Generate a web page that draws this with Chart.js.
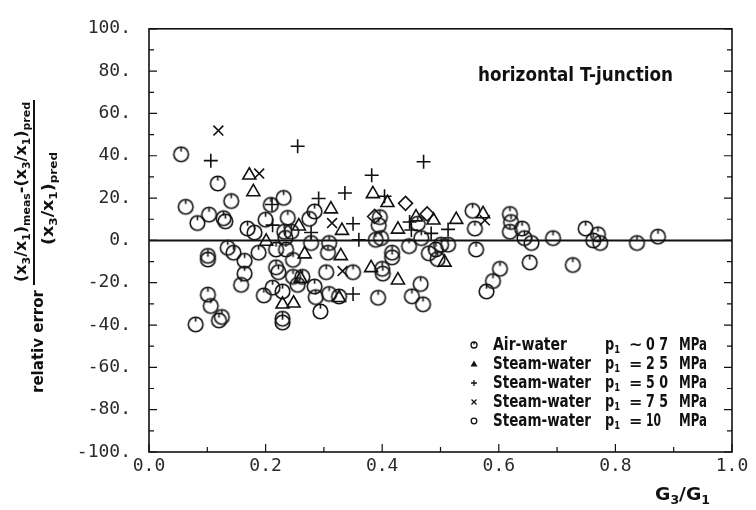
<!DOCTYPE html>
<html lang="en">
<head>
<meta charset="UTF-8">
<title>horizontal T-junction</title>
<script src="https://cdn.jsdelivr.net/npm/chart.js"></script>
<style>
  html, body { margin: 0; padding: 0; background: #fff; }
  #wrap { width: 756px; height: 510px; }
</style>
</head>
<body>
<div id="wrap"><canvas id="errChart" width="756" height="510"></canvas></div>
<script>
// ---- data (G3/G1, relative error %) ----
const airX = [0.055, 0.063, 0.118, 0.141, 0.083, 0.103, 0.128, 0.131, 0.101, 0.101, 0.135, 0.145, 0.164, 0.164, 0.158,
  0.101, 0.106, 0.080, 0.120, 0.125, 0.169, 0.181, 0.200, 0.209, 0.231, 0.238, 0.188, 0.232, 0.234, 0.244, 0.218, 0.235,
  0.247, 0.218, 0.222, 0.247, 0.255, 0.263, 0.197, 0.212, 0.229, 0.229, 0.229, 0.284, 0.286, 0.294, 0.309, 0.304, 0.350,
  0.278, 0.309, 0.284, 0.275, 0.307, 0.326,
  0.555, 0.619, 0.621, 0.619, 0.640, 0.644, 0.656, 0.693, 0.559, 0.561, 0.653, 0.602, 0.590, 0.579, 0.466, 0.451, 0.470,
  0.393, 0.400, 0.401, 0.417, 0.417, 0.389, 0.398, 0.396, 0.394, 0.446, 0.467, 0.480, 0.492, 0.495, 0.501, 0.513, 0.461,
  0.749, 0.770, 0.762, 0.774, 0.837, 0.873, 0.727];
const airY = [40.7, 15.9, 26.9, 18.6, 8.2, 12.2, 10.5, 9.0, -7.3, -9.0, -3.5, -5.8, -9.6, -15.7, -21,
  -25.6, -31, -39.7, -37.8, -36.2, 5.6, 3.7, 9.8, 16.8, 20.1, 10.7, -5.8, 4.1, 1.2, 4.1, -4.3, -4.3,
  -9.2, -12.7, -15, -17.2, -21, -17.2, -26, -22.3, -24.1, -37.0, -38.8, -21.8, -26.8, -33.6, -25.3, -15, -15,
  -1.2, -1.2, 13.7, 10.2, -5.8, -26.5,
  14, 12.5, 8.7, 4.1, 5.6, 1.1, -1.2, 1.1, 5.6, -4.3, -10.4, -13.4, -19.2, -24.1, -20.6, -26.4, -30.2,
  -27.1, -13.4, -15.7, -5.8, -8, 0.3, 1.1, 11, 7.2, -2.7, 1.1, -6.1, -4.3, -8.8, -2, -2, 7.9,
  5.6, 2.9, 0, -1.2, -1.2, 1.8, -11.6];

const s25X = [0.172, 0.179, 0.312, 0.331, 0.329, 0.201, 0.257, 0.267, 0.229, 0.248, 0.326, 0.260, 0.384, 0.409, 0.458,
  0.488, 0.527, 0.427, 0.381, 0.427, 0.507, 0.573];
const s25Y = [30.8, 22.9, 14.8, 4.6, -7.3, -0.5, 6.7, -6.5, -30.2, -29.7, -27.1, -18, 22, 17.8, 11,
  9.5, 9.8, 5.2, -13, -18.8, -10.4, 12.5];

const s50X = [0.255, 0.106, 0.291, 0.336, 0.350, 0.350, 0.212, 0.278, 0.211, 0.471, 0.382, 0.360, 0.404, 0.447, 0.450,
  0.484, 0.513];
const s50Y = [44.5, 37.7, 19.8, 22.4, 7.9, -25.3, 7.2, 3.7, 17, 37.2, 30.8, 0.3, 20.9, 8.7, 4.9,
  3.3, 5.2];

const s75X = [0.119, 0.189, 0.314, 0.332, 0.576];
const s75Y = [51.9, 31.6, 8.2, -14.5, 9.5];

const s100X = [0.440, 0.387, 0.477];
const s100Y = [17.5, 11.3, 12.5];

const seriesNames = ['Air-water', 'Steam-water', 'Steam-water', 'Steam-water', 'Steam-water'];
const pressureOps = ['~', '=', '=', '=', '='];
const pressureVals = ['0 7', '2 5', '5 0', '7 5', '10'];

const xTicks = [0, 0.2, 0.4, 0.6, 0.8, 1.0];
const yTicks = [-100, -80, -60, -40, -20, 0, 20, 40, 60, 80, 100];

const INK = '#111';

// circle marker with the little stroke at the top, like the plotter symbol
function circleMark(r) {
  const c = document.createElement('canvas');
  const s = Math.ceil(2 * r + 4);
  c.width = s; c.height = s;
  const g = c.getContext('2d');
  g.strokeStyle = INK; g.lineWidth = 1.6;
  g.beginPath(); g.arc(s / 2, s / 2, r, 0, Math.PI * 2); g.stroke();
  g.beginPath(); g.moveTo(s / 2, s / 2 - r); g.lineTo(s / 2, s / 2 - r + 4.5); g.stroke();
  return c;
}

function pts(xs, ys) { return xs.map((x, i) => ({ x: x, y: ys[i] })); }

function runWidth(ctx, parts, base, sub) {
  let w = 0;
  parts.forEach(p => { ctx.font = p[1] ? sub : base; w += ctx.measureText(p[0]).width; });
  return w;
}
// draws a run of text (with subscripts) squeezed to a given length
function drawRun(ctx, parts, x, y, len, base, sub, drop, rotate) {
  ctx.save();
  ctx.translate(x, y);
  if (rotate) ctx.rotate(-Math.PI / 2);
  const w = runWidth(ctx, parts, base, sub);
  ctx.scale(len / w, 1);
  let cx = 0;
  parts.forEach(p => {
    ctx.font = p[1] ? sub : base;
    ctx.fillText(p[0], cx, p[1] ? drop : 0);
    cx += ctx.measureText(p[0]).width;
  });
  ctx.restore();
}

const BOLD = 'bold 16px "DejaVu Sans"';
const SUB = 'bold 11px "DejaVu Sans"';

const framePlugin = {
  id: 'frame',
  beforeDatasetsDraw(chart) {
    const { ctx, chartArea: a, scales: { y } } = chart;
    ctx.save();
    ctx.strokeStyle = INK;
    ctx.lineWidth = 2;
    const y0 = y.getPixelForValue(0);
    ctx.beginPath(); ctx.moveTo(a.left, y0); ctx.lineTo(a.right, y0); ctx.stroke();
    ctx.restore();
  },
  afterDraw(chart) {
    const { ctx, chartArea: a, scales: { x, y } } = chart;
    ctx.save();
    ctx.strokeStyle = INK;
    ctx.fillStyle = INK;
    ctx.lineWidth = 1.6;
    ctx.strokeRect(a.left, a.top, a.right - a.left, a.bottom - a.top);

    // inward ticks, major at labels, minor halfway
    ctx.lineWidth = 1.2;
    ctx.beginPath();
    const yStep = yTicks[1] - yTicks[0];
    for (let i = 0; i < yTicks.length; i++) {
      [yTicks[i], yTicks[i] + yStep / 2].forEach((v, k) => {
        if (v > yTicks[yTicks.length - 1]) return;
        const py = y.getPixelForValue(v);
        const len = k === 0 ? 8 : 5;
        ctx.moveTo(a.left, py); ctx.lineTo(a.left + len, py);
        ctx.moveTo(a.right, py); ctx.lineTo(a.right - len, py);
      });
    }
    const xStep = xTicks[1] - xTicks[0];
    for (let i = 0; i < xTicks.length; i++) {
      [xTicks[i], xTicks[i] + xStep / 2].forEach((v, k) => {
        if (v > xTicks[xTicks.length - 1] + 1e-9) return;
        const px = x.getPixelForValue(v);
        const len = k === 0 ? 8 : 5;
        ctx.moveTo(px, a.bottom); ctx.lineTo(px, a.bottom - len);
      });
    }
    ctx.stroke();

    // annotation
    drawRun(ctx, [['horizontal T-junction', 0]], 478, 81, 195, 'bold 19px "DejaVu Sans"', SUB, 0, false);

    // x title
    drawRun(ctx, [['G', 0], ['3', 1], ['/G', 0], ['1', 1]], 655, 500, 55, 'bold 18px "DejaVu Sans"', 'bold 12px "DejaVu Sans"', 4, false);

    // y title: relativ error  (x3/x1)meas-(x3/x1)pred / (x3/x1)pred
    drawRun(ctx, [['relativ error', 0]], 43, 393, 103, BOLD, SUB, 0, true);
    drawRun(ctx, [['(x', 0], ['3', 1], ['/x', 0], ['1', 1], [')', 0], ['meas', 1], ['-(x', 0], ['3', 1], ['/x', 0], ['1', 1], [')', 0], ['pred', 1]],
      26, 282, 180, BOLD, SUB, 4, true);
    drawRun(ctx, [['(x', 0], ['3', 1], ['/x', 0], ['1', 1], [')', 0], ['pred', 1]],
      53, 245, 93, BOLD, SUB, 4, true);
    ctx.lineWidth = 2;
    ctx.beginPath(); ctx.moveTo(34, 285); ctx.lineTo(34, 100); ctx.stroke();

    // legend
    const rows = [350, 369, 388, 407, 426];
    rows.forEach((ry, i) => {
      const mx = 474, my = ry - 5;
      ctx.lineWidth = 1.3;
      ctx.beginPath();
      if (i === 0) {
        ctx.arc(mx, my, 3, 0, Math.PI * 2); ctx.moveTo(mx, my - 3); ctx.lineTo(mx, my - 0.5); ctx.stroke();
      } else if (i === 1) {
        ctx.moveTo(mx, my - 3.5); ctx.lineTo(mx + 3.5, my + 2.5); ctx.lineTo(mx - 3.5, my + 2.5); ctx.closePath(); ctx.fill();
      } else if (i === 2) {
        ctx.moveTo(mx - 3, my); ctx.lineTo(mx + 3, my); ctx.moveTo(mx, my - 3); ctx.lineTo(mx, my + 3); ctx.stroke();
      } else if (i === 3) {
        ctx.moveTo(mx - 2.5, my - 2.5); ctx.lineTo(mx + 2.5, my + 2.5); ctx.moveTo(mx + 2.5, my - 2.5); ctx.lineTo(mx - 2.5, my + 2.5); ctx.stroke();
      } else {
        ctx.arc(mx, my, 2.8, 0, Math.PI * 2); ctx.stroke();
      }
      const nameLen = i === 0 ? 74 : 98;
      drawRun(ctx, [[seriesNames[i], 0]], 493, ry, nameLen, 'bold 17px "DejaVu Sans"', SUB, 0, false);
      drawRun(ctx, [['p', 0], ['1', 1]], 605, ry, 15, 'bold 17px "DejaVu Sans"', SUB, 3, false);
      ctx.font = 'bold 16px "DejaVu Sans"';
      ctx.fillText(pressureOps[i], 629, ry);
      drawRun(ctx, [[pressureVals[i], 0]], 646, ry, pressureVals[i].length === 3 ? 22 : 15, 'bold 17px "DejaVu Sans"', SUB, 0, false);
      drawRun(ctx, [['MPa', 0]], 679, ry, 28, 'bold 17px "DejaVu Sans"', SUB, 0, false);
    });
    ctx.restore();
  }
};

const tickFont = { family: '"DejaVu Sans Mono", monospace', size: 18 };

new Chart(document.getElementById('errChart').getContext('2d'), {
  type: 'scatter',
  data: {
    datasets: [
      { label: 'Air-water', data: pts(airX, airY), pointStyle: circleMark(7.3) },
      { label: 'Steam-water 2.5 MPa', data: pts(s25X, s25Y), pointStyle: 'triangle', pointRadius: 7.5, pointBorderWidth: 1.6 },
      { label: 'Steam-water 5.0 MPa', data: pts(s50X, s50Y), pointStyle: 'cross', pointRadius: 7, pointBorderWidth: 1.6 },
      { label: 'Steam-water 7.5 MPa', data: pts(s75X, s75Y), pointStyle: 'crossRot', pointRadius: 7, pointBorderWidth: 1.6 },
      { label: 'Steam-water 10 MPa', data: pts(s100X, s100Y), pointStyle: 'rectRot', pointRadius: 7, pointBorderWidth: 1.6 }
    ].map(d => Object.assign({ borderColor: INK, backgroundColor: 'rgba(0,0,0,0)', pointBorderColor: INK, pointBackgroundColor: 'rgba(0,0,0,0)' }, d))
  },
  options: {
    responsive: false,
    animation: false,
    layout: { padding: { top: 15, right: 24, left: 0, bottom: 0 } },
    plugins: { legend: { display: false }, tooltip: { enabled: false } },
    scales: {
      x: {
        type: 'linear', min: 0, max: 1,
        afterBuildTicks: s => { s.ticks = xTicks.map(v => ({ value: v })); },
        afterFit: s => { s.height = 58; },
        ticks: { callback: v => v.toFixed(1), font: tickFont, color: '#2a2a2a', padding: 4, maxRotation: 0 },
        grid: { display: false, drawTicks: false },
        border: { display: false }
      },
      y: {
        min: -100, max: 100,
        afterBuildTicks: s => { s.ticks = yTicks.map(v => ({ value: v })); },
        afterFit: s => { s.width = 149; },
        ticks: { callback: v => v.toFixed(0) + '.', font: tickFont, color: '#2a2a2a', padding: 18 },
        grid: { display: false, drawTicks: false },
        border: { display: false }
      }
    }
  },
  plugins: [framePlugin]
});
</script>
</body>
</html>
